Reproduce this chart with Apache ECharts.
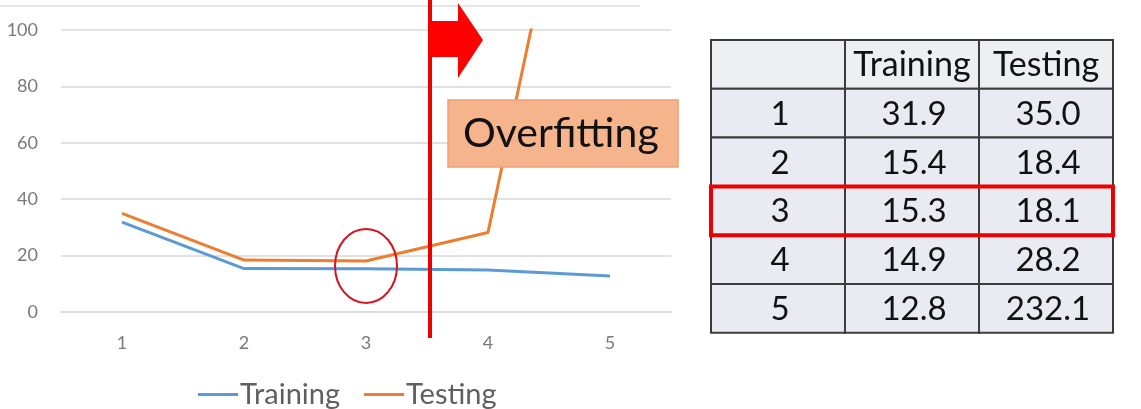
<!DOCTYPE html>
<html>
<head>
<meta charset="utf-8">
<script src="https://cdn.jsdelivr.net/npm/echarts@6/dist/echarts.min.js"></script>
<style>
html,body{margin:0;padding:0;background:#fff;}
#main{width:1141px;height:409px;}
</style>
</head>
<body>
<div id="main"></div>
<script>
// ---- data ----
const categories = ['1', '2', '3', '4', '5'];
const training = [31.9, 15.4, 15.3, 14.9, 12.8];
const testing = [35.0, 18.4, 18.1, 28.2, 232.1];
const yMin = 0, yMax = 100, yInterval = 20;
const tableHeader = ['', 'Training', 'Testing'];
const highlightIndex = 2;      // row "3"
const annotationText = 'Overfitting';

const FONT = 'Lato, "Open Sans", sans-serif';
const chart = echarts.init(document.getElementById('main'), null, {renderer: 'canvas'});

const option = {
  animation: false,
  backgroundColor: '#ffffff',
  grid: {left: 61, top: 30, width: 610, height: 282, containLabel: false},
  legend: {
    left: 193, top: 375,
    icon: 'rect', itemWidth: 40, itemHeight: 3, itemGap: 24,
    textStyle: {fontSize: 29, color: '#5f5f5f', fontFamily: FONT, padding: [0, 0, 0, -3]},
    data: ['Training', 'Testing']
  },
  xAxis: {
    type: 'category', data: categories, boundaryGap: true,
    axisLine: {show: true, lineStyle: {color: '#d9d9d9', width: 1.5}},
    axisTick: {show: false},
    axisLabel: {color: '#7a7a7a', fontSize: 18, fontFamily: FONT, margin: 22}
  },
  yAxis: {
    type: 'value', min: yMin, max: yMax, interval: yInterval,
    axisLine: {show: false}, axisTick: {show: false},
    splitLine: {lineStyle: {color: '#d9d9d9', width: 1.5}},
    axisLabel: {color: '#7a7a7a', fontSize: 18, fontFamily: FONT, margin: 23}
  },
  series: [
    {name: 'Training', type: 'line', data: training, showSymbol: false, symbol: 'none',
     lineStyle: {color: '#5b9bd5', width: 3}, itemStyle: {color: '#5b9bd5'}, clip: true, z: 3},
    {name: 'Testing', type: 'line', data: testing, showSymbol: false, symbol: 'none',
     lineStyle: {color: '#ed7d31', width: 3}, itemStyle: {color: '#ed7d31'}, clip: true, z: 2}
  ]
};
chart.setOption(option);

// ---- annotations derived from the axes ----
const p3 = chart.convertToPixel({gridIndex: 0}, [2, training[2]]);
const p4 = chart.convertToPixel({gridIndex: 0}, [3, training[3]]);
const splitX = (p3[0] + p4[0]) / 2 + 3;
const ellipseC = chart.convertToPixel({gridIndex: 0}, [2, (training[2] + testing[2]) / 2]);

const graphics = [];
// faint top line
graphics.push({type: 'line', shape: {x1: 0, y1: 6, x2: 640, y2: 6},
  style: {stroke: '#e6e6e6', lineWidth: 2}, z: 1});
// overfitting box
graphics.push({type: 'rect', shape: {x: 448, y: 100, width: 230, height: 67},
  style: {fill: '#f6b48c', stroke: '#f0a074', lineWidth: 1.5}, z: 10});
graphics.push({type: 'text', x: 463, y: 134,
  style: {text: annotationText, font: '41px ' + FONT, fill: '#111111',
          textAlign: 'left', textVerticalAlign: 'middle'}, z: 11});
// ellipse
graphics.push({type: 'ellipse', shape: {cx: ellipseC[0], cy: ellipseC[1] + 1, rx: 31, ry: 37},
  style: {fill: 'none', stroke: '#d41420', lineWidth: 2}, z: 12});
// vertical red line
graphics.push({type: 'line', shape: {x1: splitX, y1: 0, x2: splitX, y2: 338},
  style: {stroke: '#ee0000', lineWidth: 4}, z: 13});
// red arrow
const ax = splitX - 1;
graphics.push({type: 'polygon', shape: {points: [
  [ax, 21], [ax + 29, 21], [ax + 29, 3], [ax + 54, 40], [ax + 29, 78], [ax + 29, 57], [ax, 57]
]}, style: {fill: '#ff0000'}, z: 13});

// table
const tX = 711, tY = 40, colW = 134, rowH = 48.8;
const rows = [tableHeader].concat(categories.map((c, i) => [c, training[i].toFixed(1), testing[i].toFixed(1)]));
rows.forEach((row, r) => {
  row.forEach((cell, c) => {
    graphics.push({type: 'rect', shape: {x: tX + c * colW, y: tY + r * rowH, width: colW, height: rowH},
      style: {fill: r === 0 ? '#eeeff2' : '#e8ebf2', stroke: '#3c3c3c', lineWidth: 2}, z: 20});
    if (cell !== '') {
      graphics.push({type: 'text', x: tX + c * colW + colW / 2 + (r === 0 ? 0 : 2), y: tY + r * rowH + rowH / 2 + 1,
        style: {text: cell, font: (r === 0 ? '34px ' : '33px ') + FONT, fill: '#111111',
                textAlign: 'center', textVerticalAlign: 'middle'}, z: 21});
    }
  });
});
// highlight box around row 3
graphics.push({type: 'rect', shape: {x: tX, y: tY + (highlightIndex + 1) * rowH, width: colW * 3, height: rowH},
  style: {fill: 'none', stroke: '#ee0000', lineWidth: 4}, z: 22});

chart.setOption({graphic: {elements: graphics}});
</script>
</body>
</html>
